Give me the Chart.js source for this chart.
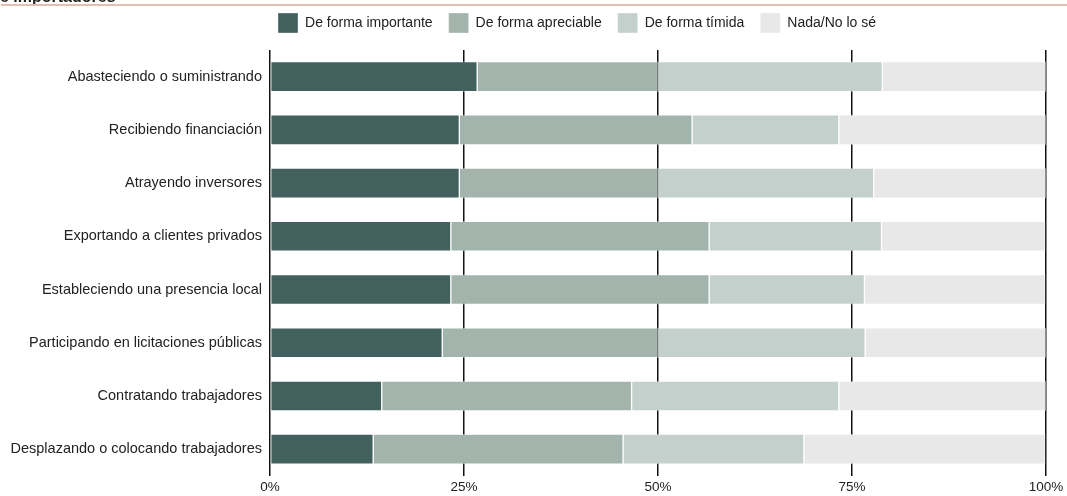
<!DOCTYPE html>
<html>
<head>
<meta charset="utf-8">
<script src="https://cdn.jsdelivr.net/npm/chart.js@4.4.0/dist/chart.umd.min.js"></script>
<style>
  html, body { margin: 0; padding: 0; background: #fff; }
  #wrap { width: 1067px; height: 496px; position: relative; }
</style>
</head>
<body>
<div id="wrap"><canvas id="chart"></canvas></div>
<script>
const categories = [
  'Abasteciendo o suministrando',
  'Recibiendo financiación',
  'Atrayendo inversores',
  'Exportando a clientes privados',
  'Estableciendo una presencia local',
  'Participando en licitaciones públicas',
  'Contratando trabajadores',
  'Desplazando o colocando trabajadores'
];

const seriesNames = ['De forma importante', 'De forma apreciable', 'De forma tímida', 'Nada/No lo sé'];

// percentages per row
const importante = [26.7, 24.4, 24.4, 23.3, 23.3, 22.2, 14.4, 13.3];
const apreciable = [23.3, 30.0, 25.6, 33.3, 33.3, 27.8, 32.2, 32.2];
const timida     = [28.9, 18.9, 27.8, 22.2, 20.0, 26.7, 26.7, 23.3];
const nada       = [21.1, 26.7, 22.2, 21.1, 23.3, 23.3, 26.7, 31.1];

const xTicks = [0, 25, 50, 75, 100];

const colors = ['#41605e', '#a2b4ac', '#c4d0cb', '#e8e8e8'];

const FONT = '"Liberation Sans", Arial, sans-serif';

// cut-off heading and rule at the top of the panel
const headerPlugin = {
  id: 'header',
  beforeDraw(chart) {
    const ctx = chart.ctx;
    ctx.save();
    ctx.fillStyle = '#222';
    ctx.font = 'bold 16px ' + FONT;
    ctx.textBaseline = 'alphabetic';
    ctx.fillText('e importadores', 0, 1.5);
    ctx.strokeStyle = '#e4beb2';
    ctx.lineWidth = 2;
    ctx.beginPath();
    ctx.moveTo(1, 5);
    ctx.lineTo(chart.width, 5);
    ctx.stroke();
    ctx.restore();
  }
};

// legend sits a little right of the canvas centre and closer to the rule
const legendShift = {
  id: 'legendShift',
  afterLayout(chart) {
    const lg = chart.legend;
    lg.left += 54;
    lg.right += 54;
    lg.top -= 7;
    lg.bottom -= 7;
  }
};

const datasets = [importante, apreciable, timida, nada].map((vals, i) => ({
  label: seriesNames[i],
  data: vals,
  backgroundColor: colors[i],
  borderColor: 'rgba(255,255,255,0.35)',
  borderWidth: 1,
  borderSkipped: false,
  barThickness: 30
}));

const ctx = document.getElementById('chart').getContext('2d');
new Chart(ctx, {
  type: 'bar',
  data: { labels: categories, datasets: datasets },
  options: {
    indexAxis: 'y',
    responsive: true,
    maintainAspectRatio: false,
    animation: false,
    layout: { padding: { left: 0, right: 21, top: 4, bottom: -2 } },
    plugins: {
      legend: {
        position: 'top',
        labels: {
          boxWidth: 20,
          boxHeight: 20,
          padding: 16,
          color: '#222',
          font: { family: FONT, size: 14 }
        }
      },
      tooltip: { enabled: false }
    },
    scales: {
      x: {
        stacked: true,
        min: 0,
        max: 100,
        afterBuildTicks(scale) {
          scale.ticks = xTicks.map(v => ({ value: v }));
        },
        grid: { color: '#111', lineWidth: 1.5, drawTicks: false },
        border: { display: false },
        ticks: {
          padding: 3,
          color: '#222',
          font: { family: FONT, size: 13.5 },
          callback: v => v + '%'
        }
      },
      y: {
        stacked: true,
        grid: { display: false, drawTicks: false },
        border: { display: false },
        afterFit(scale) { scale.width = 270; },
        ticks: {
          padding: 8,
          color: '#222',
          font: { family: FONT, size: 14.5 }
        }
      }
    }
  },
  plugins: [headerPlugin, legendShift]
});
</script>
</body>
</html>
